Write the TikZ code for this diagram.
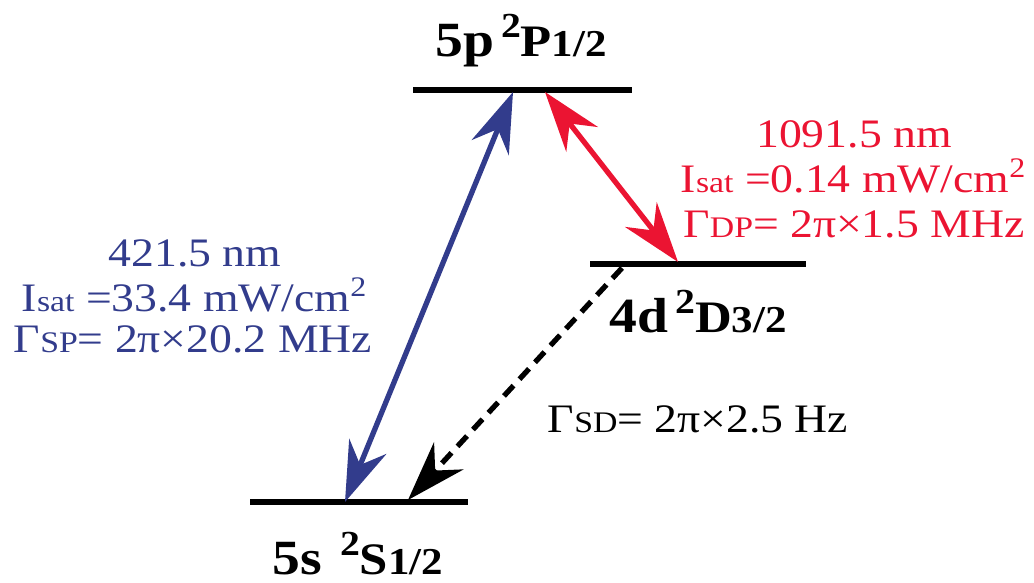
\documentclass[tikz,border=0pt]{standalone}
\usepackage{fontspec}
\setmainfont[FakeStretch=1.13]{Liberation Serif}
\usetikzlibrary{arrows.meta}
\definecolor{rateblue}{RGB}{50,60,140}
\definecolor{ratered}{RGB}{235,20,50}
\newcommand{\statelbl}[5]{{\fontsize{14}{16}\selectfont #1}\hspace{#5}\raisebox{5.5pt}{\fontsize{10}{10}\selectfont #2}{\fontsize{12.8}{13}\selectfont #3}{\fontsize{10.8}{11}\selectfont #4}}
\newcommand{\smtxt}[1]{{\fontsize{8.5}{9}\selectfont #1}}

\begin{document}
\begin{tikzpicture}[x=0.01cm, y=-0.01cm, line join=round,
  level/.style={line width=1.7pt},
  trans/.style={line width=1.5pt, {Stealth[length=6mm,width=4mm,inset=2mm]}-{Stealth[length=6mm,width=4mm,inset=2mm]}},
  decay/.style={line width=1.5pt, dash pattern=on 4pt off 2.5pt, -{Stealth[length=6mm,width=4mm,inset=2mm]}},
  statename/.style={font=\bfseries, anchor=base, inner sep=0pt},
  rate/.style={font=\fontsize{11.5}{13}\selectfont, anchor=base, inner sep=0pt}]
  \useasboundingbox (0,0) rectangle (1034,583);
  % levels
  \coordinate (pL) at (413,90);  \coordinate (pR) at (632,90);
  \coordinate (dL) at (590,264); \coordinate (dR) at (806,264);
  \coordinate (sL) at (250,502); \coordinate (sR) at (468,502);
  \draw[level] (pL) -- (pR);
  \draw[level] (dL) -- (dR);
  \draw[level] (sL) -- (sR);
  \node[statename] (pname) at (521,57) {\statelbl{5p}{2}{P}{1/2}{2pt}};
  \node[statename] (dname) at (698,333) {\statelbl{4d}{2}{D}{3/2}{2pt}};
  \node[statename] (sname) at (358,575) {\statelbl{5s}{2}{S}{1/2}{5pt}};
  % transitions
  \coordinate (sBlue) at (345,502); \coordinate (pBlue) at (513,92);
  \coordinate (pRed) at (545,92);   \coordinate (dRed) at (678,262);
  \coordinate (dDecay) at (622,268); \coordinate (sDecay) at (408,500);
  \draw[trans, rateblue] (sBlue) -- (pBlue);
  \draw[trans, ratered] (pRed) -- (dRed);
  \draw[decay] (dDecay) -- (sDecay);
  % rates
  \node[rate, rateblue] (blueA) at (195,267) {421.5 nm};
  \node[rate, rateblue] (blueB) at (195,312) {I\smtxt{sat} =33.4 mW/cm\textsuperscript{2}};
  \node[rate, rateblue] (blueC) at (193,353) {Γ\smtxt{SP}= 2π×20.2 MHz};
  \node[rate, ratered] (redA) at (854,148) {1091.5 nm};
  \node[rate, ratered] (redB) at (854,193) {I\smtxt{sat} =0.14 mW/cm\textsuperscript{2}};
  \node[rate, ratered] (redC) at (854,238) {Γ\smtxt{DP}= 2π×1.5 MHz};
  \node[rate] (sdrate) at (698,433) {Γ\smtxt{SD}= 2π×2.5 Hz};
\end{tikzpicture}
\end{document}
